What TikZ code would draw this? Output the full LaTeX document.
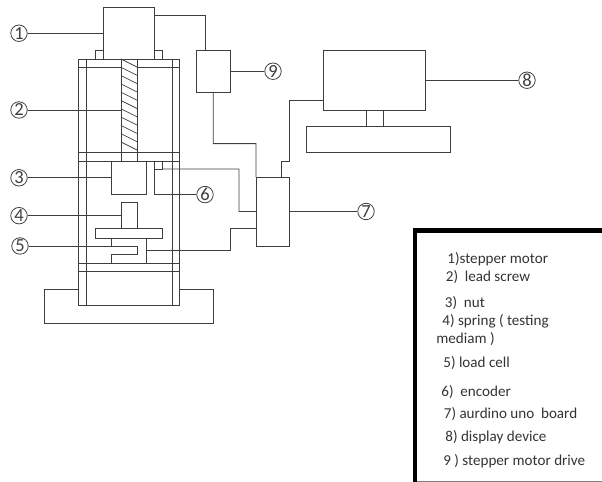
\documentclass[tikz,border=0pt]{standalone}
\usepackage{fontspec}
\setmainfont{Carlito}
\usetikzlibrary{positioning}
\definecolor{RigLine}{RGB}{62,62,62}
\definecolor{RigEdge}{RGB}{130,130,130}
\tikzset{
  rig/part/.style={
    draw=RigLine,
    line width=0.55pt,
    fill=white,
    inner sep=0pt,
    outer sep=0pt
  },
  rig/tag/.style={
    circle,
    draw=RigLine,
    line width=0.45pt,
    fill=white,
    inner sep=0pt,
    minimum size=0.33cm,
    text=RigLine,
    font=\fontsize{10.5}{11}\selectfont
  },
  rig/wire/.style={draw=RigLine, line width=0.55pt},
  rig/hatch/.style={draw=RigLine, line width=0.4pt},
  rig/note/.style={anchor=west, inner sep=0pt, text=black!80, font=\fontsize{8.6}{10}\selectfont}
}
\begin{document}
\begin{tikzpicture}[x=0.02cm,y=-0.02cm]
  \useasboundingbox (0,0) rectangle (602,482);
  % base and frame
  \node[rig/part,minimum width=3.38cm,minimum height=0.68cm] (base) at (128.5,306) {};
  \draw[rig/part] (78,59) rectangle (179,305);
  \draw[rig/wire] (86,59) -- (86,305);
  \draw[rig/wire] (172,59) -- (172,305);
  \draw[rig/wire] (78,67) -- (179,67);
  \draw[rig/wire] (78,152) -- (179,152);
  \draw[rig/wire] (78,161) -- (179,161);
  \draw[rig/wire] (78,263) -- (179,263);
  \draw[rig/wire] (78,271) -- (179,271);
  % motor and screw
  \node[rig/part,minimum width=1.02cm,minimum height=1.03cm] (motor) at (128.5,33.25) {};
  \node[rig/part,minimum width=0.16cm,minimum height=0.18cm] (footl) at (99,54.5) {};
  \node[rig/part,minimum width=0.16cm,minimum height=0.18cm] (footr) at (158,54.5) {};
  \node[rig/part,minimum width=0.32cm,minimum height=2.04cm] (screw) at (129,110) {};
  \foreach \y in {59,67.3,...,145}
    \draw[rig/hatch] (121,\y) -- (137,\y+8);
  \draw[rig/wire] (121,152) -- (137,152);
  % parts under the plate
  \node[rig/part,minimum width=0.7cm,minimum height=0.67cm] (nut) at (128.5,177.8) {};
  \node[rig/part,minimum width=0.16cm,minimum height=0.16cm] (encoder) at (158,165) {};
  \node[rig/part,minimum width=0.32cm,minimum height=0.52cm] (spring) at (129,215.7) {};
  \node[rig/part,minimum width=1.35cm,minimum height=0.19cm] (plate) at (128.75,233.4) {};
  \coordinate (slot) at (137,246);
  \coordinate (cellout) at (146,250);
  \draw[rig/wire] (111,238) -- (111,246);
  \draw[rig/wire] (slot) -- (137,254) -- (111,254) -- (111,263);
  \draw[rig/wire] (146,238) -- (146,263);
  % drive, board, display
  \node[rig/part,minimum width=0.69cm,minimum height=0.83cm] (driver) at (213.25,71.25) {};
  \node[rig/part,minimum width=0.67cm,minimum height=1.38cm] (board) at (272.75,211.5) {};
  \node[rig/part,minimum width=2.04cm,minimum height=1.19cm] (monitor) at (374,80.25) {};
  \node[rig/part,minimum width=0.34cm,minimum height=0.33cm] (neck) at (374.5,118.25) {};
  \node[rig/part,minimum width=2.88cm,minimum height=0.51cm] (stand) at (378.5,139.25) {};
  % tags
  \node[rig/tag] (tag1) at (19,33.25) {1};
  \node[rig/tag] (tag2) at (19,110) {2};
  \node[rig/tag] (tag3) at (19,177.8) {3};
  \node[rig/tag] (tag4) at (19,215.7) {4};
  \node[rig/tag] (tag5) at (20,246) {5};
  \node[rig/tag] (tag6) at (205,194.6) {6};
  \node[rig/tag] (tag7) at (366,211.5) {7};
  \node[rig/tag] (tag8) at (527,80.25) {8};
  \node[rig/tag] (tag9) at (273,71.25) {9};
  \draw[rig/wire] (tag1) -- (motor.west);
  \draw[rig/wire] (tag2) -- (screw.west);
  \draw[rig/wire] (tag3) -- (nut.west);
  \draw[rig/wire] (tag4) -- (spring.west);
  \draw[rig/wire] (tag5) -- (slot);
  \draw[rig/wire] (tag7) -- (board.east);
  \draw[rig/wire] (tag8) -- (monitor.east);
  \draw[rig/wire] (tag9) -- (driver.east);
  \draw[rig/wire] (encoder.south west) |- (tag6);
  % wiring
  \coordinate (motorout) at (154,15.5);
  \coordinate (driverin) at (205,50.5);
  \coordinate (drivebend) at (256,143.6);
  \coordinate (monitorout) at (323,100.5);
  \coordinate (boardtop) at (281.5,177);
  \draw[rig/wire] (motorout) -| (driverin);
  \draw[rig/wire] (driver.south) |- (drivebend) -- (board.north west);
  \draw[rig/wire] (monitorout) -- (289.5,100.5) -- (289.5,161) -- (281.5,161) -- (boardtop);
  \draw[rig/wire] (encoder.south east) -- (239,169) -- (239,211.5) -- (board.west);
  \draw[rig/wire] (cellout) -- (230.5,250) -- (230.5,228) -- (256,228);
  % legend
  \fill[black] (412.5,228) rectangle (602,233);
  \fill[black] (412.5,228) rectangle (417,482);
  \draw[RigEdge,line width=0.6pt] (417,481.5) -- (602,481.5);
  \node[rig/note] (note1) at (447,259) {1)stepper motor};
  \node[rig/note] (note2) at (445.5,277) {2)\ \ lead screw};
  \node[rig/note] (note3) at (444.5,303) {3)\ \ nut};
  \node[rig/note] (note4) at (442,321) {4) spring ( testing};
  \node[rig/note] (note4b) at (436,339) {mediam )};
  \node[rig/note] (note5) at (443,363) {5) load cell};
  \node[rig/note] (note6) at (441,392) {6)\ \ encoder};
  \node[rig/note] (note7) at (443.5,414) {7) aurdino uno\ \ board};
  \node[rig/note] (note8) at (445,437) {8) display device};
  \node[rig/note] (note9) at (443,461) {9 ) stepper motor drive};
\end{tikzpicture}
\end{document}
